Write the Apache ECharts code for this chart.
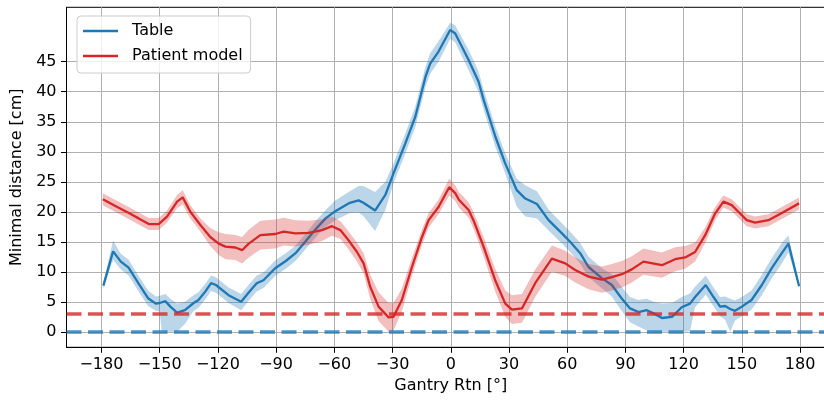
<!DOCTYPE html>
<html>
<head>
<meta charset="utf-8">
<script src="https://cdn.jsdelivr.net/npm/echarts@6/dist/echarts.min.js"></script>
<style>
  html, body { margin: 0; padding: 0; background: #fff; overflow: hidden; }
  #chart { width: 824px; height: 402px; }
</style>
</head>
<body>
<div id="chart"></div>
<script>
// Minimal distance of the table to the gantry, per gantry angle (mean and spread)
const tableAngles = [-179, -174, -170, -166, -161, -156, -152, -150, -149, -147, -144.5, -141, -137, -132.5, -130, -126.5, -123.5, -121, -114.5, -108, -104, -100, -96.5, -90.5, -85, -80, -75, -70, -64.5, -59.5, -52, -47.5, -45, -39, -33.7, -29.5, -23.4, -18.3, -13, -10.6, -6.3, -0.3, 2.3, 9.2, 14.3, 17, 23, 28, 34, 38.4, 44.4, 50.4, 57.3, 61.5, 66.7, 71, 78, 83, 88, 92.4, 96.7, 101, 104.5, 108.8, 114, 119, 123.3, 125.9, 131.4, 135.4, 138.8, 141.4, 144, 146.5, 150, 155, 160.3, 165.4, 170.6, 174, 179.5];
const tableMean = [7.7, 13.4, 11.7, 10.7, 8.1, 5.6, 4.7, 4.8, 4.9, 5.1, 4.2, 3.2, 3.6, 4.8, 5.3, 6.7, 8.1, 7.8, 6.1, 5.0, 6.6, 8.1, 8.6, 10.6, 11.8, 13.1, 15.0, 16.95, 18.9, 20.1, 21.5, 21.9, 21.5, 20.2, 22.8, 26.4, 31.4, 35.8, 42.5, 44.7, 46.7, 50.3, 49.7, 45.3, 41.7, 38.6, 32.5, 28.1, 23.6, 22.2, 21.3, 18.6, 16.4, 15.0, 13.1, 10.8, 8.9, 7.8, 5.6, 3.9, 3.3, 3.6, 3.1, 2.3, 2.5, 4.1, 4.7, 5.8, 7.8, 5.8, 4.2, 4.3, 3.8, 3.5, 4.2, 5.3, 7.8, 10.6, 13.1, 14.7, 7.6];
const tableLow = [7.2, 12.0, 10.4, 9.4, 6.8, 4.3, 3.5, 3.4, 0.2, 0.0, 0.0, 0.0, 1.3, 3.5, 4.0, 5.4, 6.8, 6.5, 4.8, 3.6, 5.2, 6.7, 7.3, 9.3, 10.5, 11.8, 13.7, 15.6, 17.5, 18.6, 19.8, 19.9, 19.3, 16.8, 20.3, 24.7, 29.7, 34.1, 40.8, 43.0, 45.0, 48.8, 48.2, 43.6, 40.0, 36.9, 30.8, 26.4, 20.9, 19.2, 18.9, 16.9, 14.7, 13.3, 11.4, 9.1, 7.2, 5.9, 3.5, 1.6, 0.9, 0.2, 0.0, 0.0, 0.0, 0.0, 0.1, 4.1, 6.2, 4.2, 2.6, 2.0, 0.0, 1.9, 2.6, 3.7, 6.1, 8.9, 11.4, 13.2, 7.3];
const tableHigh = [8.2, 15.2, 13.0, 12.0, 9.4, 6.9, 5.9, 6.0, 6.1, 6.3, 5.5, 4.7, 5.0, 6.1, 6.6, 8.0, 9.4, 9.1, 7.4, 6.3, 7.9, 9.4, 9.9, 11.9, 13.1, 14.4, 16.3, 18.3, 20.3, 21.9, 23.4, 24.3, 24.3, 23.3, 25.0, 28.1, 33.1, 37.5, 44.2, 46.4, 48.4, 51.5, 51.1, 47.0, 43.4, 40.3, 34.2, 29.8, 25.5, 24.4, 23.4, 20.4, 18.1, 16.7, 14.8, 12.5, 10.6, 9.6, 7.5, 5.8, 5.3, 5.5, 5.0, 4.7, 4.8, 5.8, 6.4, 7.5, 9.4, 7.4, 5.8, 5.9, 5.5, 5.2, 5.8, 6.9, 9.5, 12.3, 14.8, 16.1, 7.9];

// Minimal distance of the patient model to the gantry
const patientAngles = [-179.3, -172.8, -165.9, -160.8, -155.6, -150.5, -146.2, -141, -138.1, -134.2, -129, -123.9, -119.6, -116.1, -111, -107.5, -104.1, -98.1, -90.4, -86.1, -80.1, -73.2, -66.3, -61.2, -56.9, -53.5, -48.3, -44.9, -41.5, -37.2, -32.0, -29.5, -25.2, -20.0, -14.8, -11.4, -6.3, -0.8, 2.3, 4.2, 9.2, 11.7, 16.9, 22.9, 28.1, 31.5, 36.7, 43.5, 52.1, 59.0, 64.1, 71.0, 77.9, 83.0, 88.2, 93.3, 99.3, 108.8, 115.6, 120.8, 125.9, 131.1, 136.2, 140.5, 144.8, 148.2, 152.5, 156.8, 163.7, 170.6, 179.5];
const patientMean = [22.1, 20.95, 19.8, 18.9, 17.95, 17.95, 19.2, 21.7, 22.4, 20.0, 17.8, 15.8, 14.7, 14.2, 14.05, 13.6, 14.7, 16.1, 16.3, 16.7, 16.4, 16.5, 16.95, 17.6, 16.95, 15.6, 13.3, 11.4, 7.5, 4.2, 2.4, 2.5, 5.3, 10.8, 15.8, 18.6, 20.8, 24.1, 23.1, 22.0, 20.3, 18.6, 14.2, 8.6, 4.7, 3.7, 3.9, 8.1, 12.2, 11.4, 10.3, 9.2, 8.7, 9.1, 9.6, 10.4, 11.7, 11.1, 12.1, 12.4, 13.3, 16.1, 19.7, 21.7, 21.1, 20.0, 18.6, 18.2, 18.6, 19.8, 21.4];
const patientLow = [21.1, 19.95, 18.8, 17.9, 16.95, 16.95, 18.2, 20.6, 21.2, 18.9, 16.7, 14.3, 12.8, 12.1, 11.95, 11.4, 12.4, 13.7, 13.9, 14.4, 14.2, 14.5, 15.15, 16.0, 15.45, 14.1, 11.7, 9.7, 5.5, 1.8, 0.0, 0.2, 3.4, 9.3, 14.5, 17.4, 19.6, 22.7, 21.8, 20.7, 19.0, 17.2, 12.6, 6.7, 2.5, 1.3, 1.5, 5.8, 10.0, 9.3, 8.2, 7.1, 6.5, 6.9, 7.4, 8.2, 9.5, 9.0, 10.1, 10.5, 11.7, 14.8, 18.6, 20.7, 20.1, 19.0, 17.6, 17.2, 17.6, 18.8, 20.4];
const patientHigh = [23.1, 21.95, 20.8, 19.9, 18.95, 18.95, 20.2, 22.8, 23.6, 21.1, 18.9, 17.3, 16.6, 16.3, 16.15, 15.8, 17.0, 18.5, 18.7, 19.0, 18.6, 18.5, 18.75, 19.2, 18.45, 17.1, 14.9, 13.1, 9.5, 6.6, 4.8, 4.8, 7.2, 12.3, 17.1, 19.8, 22.0, 25.5, 24.4, 23.3, 21.6, 20.0, 15.8, 10.5, 6.9, 6.1, 6.3, 10.4, 14.4, 13.5, 12.4, 11.3, 10.9, 11.3, 11.8, 12.6, 13.9, 13.2, 14.1, 14.3, 14.9, 17.4, 20.8, 22.7, 22.1, 21.0, 19.6, 19.2, 19.6, 20.8, 22.4];

// Safety thresholds
const tableLimit = 0;
const patientLimit = 3;

// Tick positions
const xTicks = [-180, -150, -120, -90, -60, -30, 0, 30, 60, 90, 120, 150, 180];
const yTicks = [0, 5, 10, 15, 20, 25, 30, 35, 40, 45];

const FONT = 'DejaVu Sans';
const BLUE = '#1f77b4';
const RED = '#d62728';

// Shaded spread between low and high values, drawn as one polygon
function bandSeries(name, angles, low, high, fill, z) {
  return {
    type: 'custom',
    name: name,
    z: z,
    silent: true,
    animation: false,
    data: angles.map((a, i) => [a, low[i], high[i]]),
    encode: { x: 0, y: [1, 2] },
    renderItem: function (params, api) {
      if (params.dataIndex !== 0) return null;
      const pts = [];
      for (let i = 0; i < angles.length; i++) pts.push(api.coord([angles[i], high[i]]));
      for (let i = angles.length - 1; i >= 0; i--) pts.push(api.coord([angles[i], low[i]]));
      return { type: 'polygon', shape: { points: pts }, style: { fill: fill } };
    }
  };
}

function lineSeries(name, angles, values, color, limit, limitColor, z) {
  return {
    type: 'line',
    name: name,
    z: z,
    animation: false,
    symbol: 'none',
    showSymbol: false,
    data: angles.map((a, i) => [a, values[i]]),
    itemStyle: { color: color },
    lineStyle: { color: color, width: 2.3 },
    markLine: {
      silent: true,
      animation: false,
      symbol: 'none',
      label: { show: false },
      lineStyle: { color: limitColor, type: [15, 6.5], width: 3.5 },
      data: [{ yAxis: limit }]
    }
  };
}

const minus = v => String(v).replace('-', '\u2212');

const chart = echarts.init(document.getElementById('chart'), null, { renderer: 'canvas' });
chart.setOption({
  animation: false,
  backgroundColor: '#fff',
  textStyle: { fontFamily: FONT },
  grid: {
    left: 66.5, right: -11, top: 7.3, bottom: 54.7,
    outerBoundsMode: 'none',
    containLabel: false,
    show: true, borderColor: '#000', borderWidth: 1, backgroundColor: 'transparent'
  },
  legend: {
    data: ['Table', 'Patient model'],
    orient: 'vertical',
    left: 77, top: 16,
    padding: [7, 8, 9, 6],
    itemGap: 9,
    icon: 'rect',
    itemWidth: 35, itemHeight: 2.5,
    backgroundColor: 'rgba(255,255,255,0.8)',
    borderColor: '#cccccc', borderWidth: 1, borderRadius: 4,
    textStyle: { fontFamily: FONT, fontSize: 16, color: '#000', padding: [0, 0, 0, 9] }
  },
  xAxis: {
    type: 'value', min: -198, max: 198,
    name: 'Gantry Rtn [°]', nameLocation: 'middle', nameGap: 28,
    nameTextStyle: { fontFamily: FONT, fontSize: 16, color: '#000' },
    axisLine: { show: true, onZero: false, lineStyle: { color: '#000', width: 1 } },
    axisTick: { show: true, length: 5.5, customValues: xTicks, lineStyle: { color: '#000', width: 1 } },
    axisLabel: { customValues: xTicks, fontFamily: FONT, fontSize: 16, color: '#000', margin: 10, formatter: minus },
    splitLine: { show: true, lineStyle: { color: '#b0b0b0', width: 1 } }
  },
  yAxis: {
    type: 'value', min: -2.58, max: 54.07,
    name: 'Minimal distance [cm]', nameLocation: 'middle', nameGap: 40, nameRotate: 90,
    nameTextStyle: { fontFamily: FONT, fontSize: 16, color: '#000' },
    axisLine: { show: true, onZero: false, lineStyle: { color: '#000', width: 1 } },
    axisTick: { show: true, length: 5.5, customValues: yTicks, lineStyle: { color: '#000', width: 1 } },
    axisLabel: { customValues: yTicks, fontFamily: FONT, fontSize: 16, color: '#000', margin: 10, formatter: minus },
    splitLine: { show: true, lineStyle: { color: '#b0b0b0', width: 1 } }
  },
  series: [
    bandSeries('Table spread', tableAngles, tableLow, tableHigh, 'rgba(31,119,180,0.3)', 2),
    lineSeries('Table', tableAngles, tableMean, BLUE, tableLimit, 'rgba(31,119,180,0.8)', 3),
    bandSeries('Patient model spread', patientAngles, patientLow, patientHigh, 'rgba(214,39,40,0.3)', 4),
    lineSeries('Patient model', patientAngles, patientMean, RED, patientLimit, 'rgba(214,39,40,0.8)', 5)
  ]
});
</script>
</body>
</html>
